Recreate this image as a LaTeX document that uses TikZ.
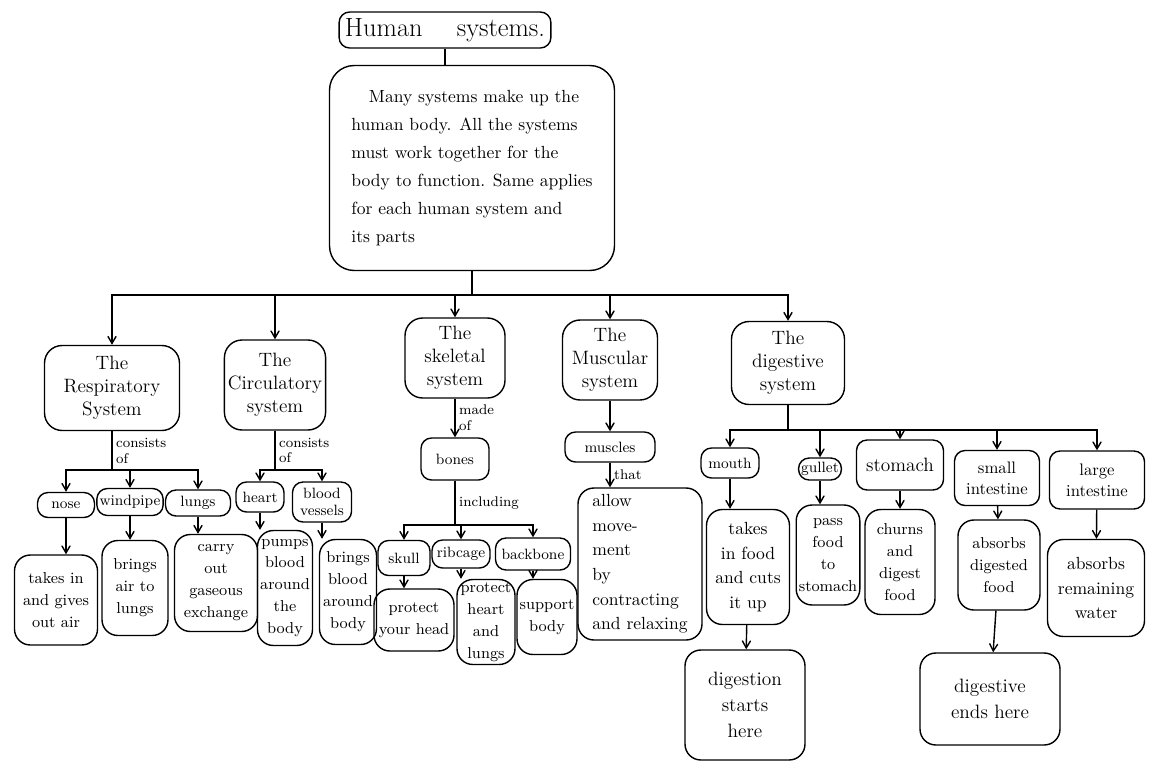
\documentclass[tikz,border=0pt]{standalone}
\usepackage{tikz}
\usetikzlibrary{arrows}
\tikzstyle{titlebox} = [draw=black, thick, rounded corners=6pt, align=center, font=\fontsize{15}{17}\selectfont]
\tikzstyle{textbox} = [draw=black, thick, rounded corners=14pt, align=left, font=\fontsize{10}{16}\selectfont]
\tikzstyle{sysbox} = [draw=black, thick, rounded corners=10pt, align=center, inner sep=2pt, font=\fontsize{11}{13}\selectfont]
\tikzstyle{part} = [draw=black, thick, rounded corners=6pt, align=center, inner sep=1.5pt, font=\fontsize{8.5}{10}\selectfont]
\tikzstyle{fact} = [draw=black, thick, rounded corners=9pt, align=center, inner sep=1.5pt, font=\fontsize{9}{12.5}\selectfont]
\tikzstyle{note} = [align=left, inner sep=2pt, font=\fontsize{8}{9}\selectfont]
\tikzstyle{arrow} = [thick, ->, >=angle 60]
\tikzstyle{link} = [thick]

\begin{document}
\begin{tikzpicture}[x=0.02cm, y=-0.02cm]
\useasboundingbox (0,0) rectangle (1153,771);

\node (title) [titlebox, minimum width=3.8cm, minimum height=0.72cm] at (445,30) {Human \quad systems.};
\node (summary) [textbox, minimum width=5.7cm, minimum height=4.1cm] at (472,168) {\quad Many systems make up the\\human body. All the systems\\must work together for the\\body to function. Same applies\\for each human system and\\its parts};

\node (resp) [sysbox, minimum width=2.7cm, minimum height=1.7cm] at (112,388) {The\\Respiratory\\System};
\node (circ) [sysbox, minimum width=2.0cm, minimum height=1.8cm] at (275,385) {The\\Circulatory\\system};
\node (skel) [sysbox, minimum width=2.0cm, minimum height=1.6cm] at (455,358) {The\\skeletal\\system};
\node (musc) [sysbox, minimum width=1.9cm, minimum height=1.6cm] at (610,360) {The\\Muscular\\system};
\node (dig) [sysbox, minimum width=2.26cm, minimum height=1.66cm] at (788,363) {The\\digestive\\system};

% respiratory
\node (nose) [part, minimum width=1.14cm, minimum height=0.5cm] at (66,505) {nose};
\node (wind) [part, minimum width=1.32cm, minimum height=0.54cm] at (130,502) {windpipe};
\node (lungs) [part, minimum width=1.3cm, minimum height=0.52cm] at (198,503) {lungs};
\node (air1) [fact, minimum width=1.66cm, minimum height=1.8cm] at (56,600) {takes in\\and gives\\out air};
\node (air2) [fact, minimum width=1.32cm, minimum height=1.9cm] at (135,588) {brings\\air to\\lungs};
\node (gas) [fact, minimum width=1.66cm, minimum height=1.94cm] at (216,583) {carry\\out\\gaseous\\exchange};

% circulatory
\node (heart) [part, minimum width=0.96cm, minimum height=0.6cm] at (260,497) {heart};
\node (vessels) [part, minimum width=1.18cm, minimum height=0.8cm] at (322,502) {blood\\vessels};
\node (pumps) [fact, minimum width=1.1cm, minimum height=2.3cm] at (285,588) {pumps\\blood\\around\\the\\body};
\node (bbody) [fact, minimum width=1.14cm, minimum height=2.1cm] at (348,592) {brings\\blood\\around\\body};

% skeletal
\node (bones) [part, minimum width=1.36cm, minimum height=0.84cm] at (455,459) {bones};
\node (skull) [part, minimum width=1.04cm, minimum height=0.7cm] at (404,558) {skull};
\node (rib) [part, minimum width=1.16cm, minimum height=0.56cm] at (461,554) {ribcage};
\node (back) [part, minimum width=1.5cm, minimum height=0.64cm] at (533,554) {backbone};
\node (head) [fact, minimum width=1.6cm, minimum height=1.24cm] at (414,620) {protect\\your head};
\node (heartl) [fact, minimum width=1.16cm, minimum height=1.7cm] at (486,622) {protect\\heart\\and\\lungs};
\node (supp) [fact, minimum width=1.14cm, minimum height=1.5cm] at (547,617) {support\\body};

% muscular
\node (muscles) [part, minimum width=1.8cm, minimum height=0.6cm] at (610,447) {muscles};
\node (move) [fact, align=left, minimum width=2.48cm, minimum height=3.04cm, font=\fontsize{10}{14}\selectfont] at (640,564) {allow\\move-\\ment\\by\\contracting\\and relaxing};

% digestive
\node (mouth) [part, minimum width=1.16cm, minimum height=0.6cm] at (730,463) {mouth};
\node (gullet) [part, minimum width=0.8cm, minimum height=0.44cm] at (820,469) {gullet};
\node (stomach) [part, minimum width=1.74cm, minimum height=1.0cm, font=\fontsize{11}{13}\selectfont] at (900,465) {stomach};
\node (sint) [part, minimum width=1.7cm, minimum height=1.1cm, font=\fontsize{9.5}{12}\selectfont] at (997,478) {small\\intestine};
\node (lint) [part, minimum width=1.9cm, minimum height=1.16cm, font=\fontsize{9.5}{12}\selectfont] at (1097,480) {large\\intestine};
\node (food) [fact, minimum width=1.66cm, minimum height=2.3cm, font=\fontsize{10}{14}\selectfont] at (748,567) {takes\\in food\\and cuts\\it up};
\node (pass) [fact, minimum width=1.1cm, minimum height=2.0cm] at (828,555) {pass\\food\\to\\stomach};
\node (churn) [fact, minimum width=1.4cm, minimum height=2.1cm] at (900,562) {churns\\and\\digest\\food};
\node (absd) [fact, minimum width=1.64cm, minimum height=1.8cm] at (999,565) {absorbs\\digested\\food};
\node (absw) [fact, minimum width=1.94cm, minimum height=1.94cm, font=\fontsize{10}{14}\selectfont] at (1096,588) {absorbs\\remaining\\water};
\node (start) [fact, minimum width=2.4cm, minimum height=2.2cm, font=\fontsize{11}{15}\selectfont] at (745,705) {digestion\\starts\\here};
\node (ends) [fact, minimum width=2.8cm, minimum height=1.84cm, font=\fontsize{11}{15}\selectfont] at (990,699) {digestive\\ends here};

% branch points
\coordinate (hub) at (472,295);
\coordinate (rbr) at (112,470);
\coordinate (cbr) at (275,470);
\coordinate (sbr) at (455,525);
\coordinate (dbr) at (788,430);

\draw[link] (title.south) -- (title.south |- summary.north);
\draw[link] (summary) -- (hub);
\draw[arrow] (hub) -| (resp);
\draw[arrow] (hub) -| (circ);
\draw[arrow] (hub) -| (skel);
\draw[arrow] (hub) -| (musc);
\draw[arrow] (hub) -| (dig);

\draw[link] (resp) -- node[note, right] {consists\\of} (rbr);
\draw[arrow] (rbr) -| (nose);
\draw[arrow] (rbr) -| (wind);
\draw[arrow] (rbr) -| (lungs);
\draw[arrow] (nose.south) -- (nose.south |- air1.north);
\draw[arrow] (wind.south) -- (wind.south |- air2.north);
\draw[arrow] (lungs.south) -- (lungs.south |- gas.north);

\draw[link] (circ) -- node[note, right] {consists\\of} (cbr);
\draw[arrow] (cbr) -| (heart);
\draw[arrow] (cbr) -| (vessels);
\draw[arrow] (heart.south) -- (heart.south |- pumps.north);
\draw[arrow] (vessels.south) -- (vessels.south |- bbody.north);

\draw[arrow] (skel) -- node[note, right] {made\\of} (bones);
\draw[link] (bones) -- node[note, right] {including} (sbr);
\draw[arrow] (sbr) -| (skull);
\draw[arrow] (sbr) -| (rib);
\draw[arrow] (sbr) -| (back);
\draw[arrow] (skull.south) -- (skull.south |- head.north);
\draw[arrow] (rib.south) -- (rib.south |- heartl.north);
\draw[arrow] (back.south) -- (back.south |- supp.north);

\draw[arrow] (musc) -- (muscles);
\draw[arrow] (muscles.south) -- node[note, right] {that} (muscles.south |- move.north);

\draw[link] (dig) -- (dbr);
\draw[arrow] (dbr) -| (mouth);
\draw[arrow] (dbr) -| (gullet);
\draw[arrow] (dbr) -| (stomach);
\draw[arrow] (dbr) -| (sint);
\draw[arrow] (dbr) -| (lint);
\draw[arrow] (mouth.south) -- (mouth.south |- food.north);
\draw[arrow] (food) -- (start);
\draw[arrow] (gullet.south) -- (gullet.south |- pass.north);
\draw[arrow] (stomach) -- (churn);
\draw[arrow] (sint) -- (absd);
\draw[arrow] (absd) -- (ends);
\draw[arrow] (lint) -- (absw);
\end{tikzpicture}
\end{document}
